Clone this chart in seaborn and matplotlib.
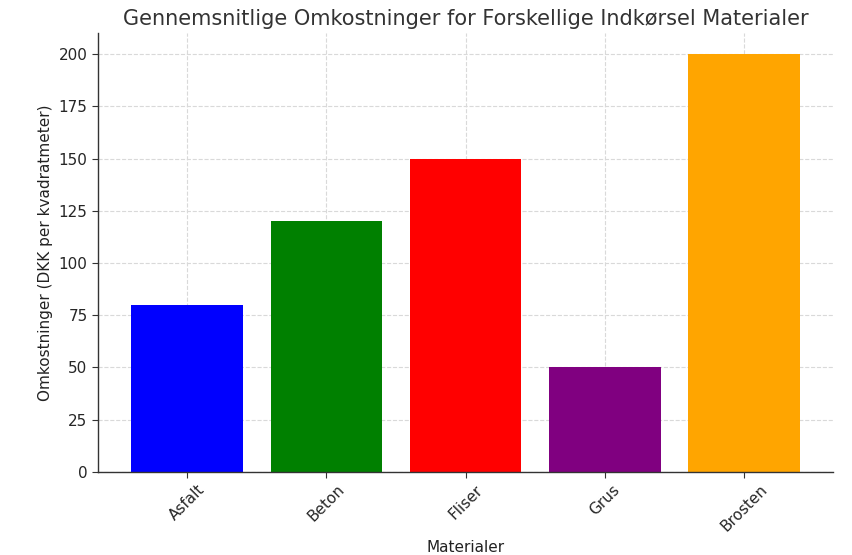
import matplotlib
matplotlib.use("Agg")
import matplotlib.pyplot as plt
import seaborn as sns
import pandas as pd

# data
materialer = ["Asfalt", "Beton", "Fliser", "Grus", "Brosten"]
omkostninger = [80, 120, 150, 50, 200]
farver = ["blue", "green", "red", "purple", "orange"]

sns.set_style("whitegrid", {"grid.linestyle": "--", "grid.color": "#d9d9d9"})
plt.rcParams['font.family'] = ['DejaVu Sans']

df = pd.DataFrame({"Materialer": materialer, "Omkostninger": omkostninger})

fig, ax = plt.subplots(figsize=(8.52, 5.55), dpi=100)
sns.barplot(data=df, x="Materialer", y="Omkostninger", hue="Materialer",
            palette=farver, saturation=1, width=0.8, legend=False,
            linewidth=0, edgecolor="none", ax=ax)

# matplotlib-style margins around the bars
ax.set_xlim(-0.64, len(materialer) - 0.36)
ax.set_ylim(0, 210)
ax.set_title("Gennemsnitlige Omkostninger for Forskellige Indkørsel Materialer",
             fontsize=15, color="#333333")
ax.set_xlabel("Materialer", fontsize=11, color="#222222")
ax.set_ylabel("Omkostninger (DKK per kvadratmeter)", fontsize=11, color="#222222")
ax.tick_params(axis="x", labelrotation=45, labelsize=11, length=4, color="#333333")
ax.tick_params(axis="y", labelsize=11, length=4, color="#333333")
ax.tick_params(axis="both", which="major", bottom=True, left=True)
for lbl in ax.get_xticklabels():
    lbl.set_ha("center")
ax.grid(True, linestyle="--", color="#d9d9d9", linewidth=0.8)
ax.set_axisbelow(True)

for side in ["top", "right"]:
    ax.spines[side].set_visible(False)
for side in ["left", "bottom"]:
    ax.spines[side].set_color("#333333")
    ax.spines[side].set_linewidth(1.0)

plt.subplots_adjust(left=0.115, right=0.978, top=0.94, bottom=0.15)
plt.savefig("out.png", dpi=100)
